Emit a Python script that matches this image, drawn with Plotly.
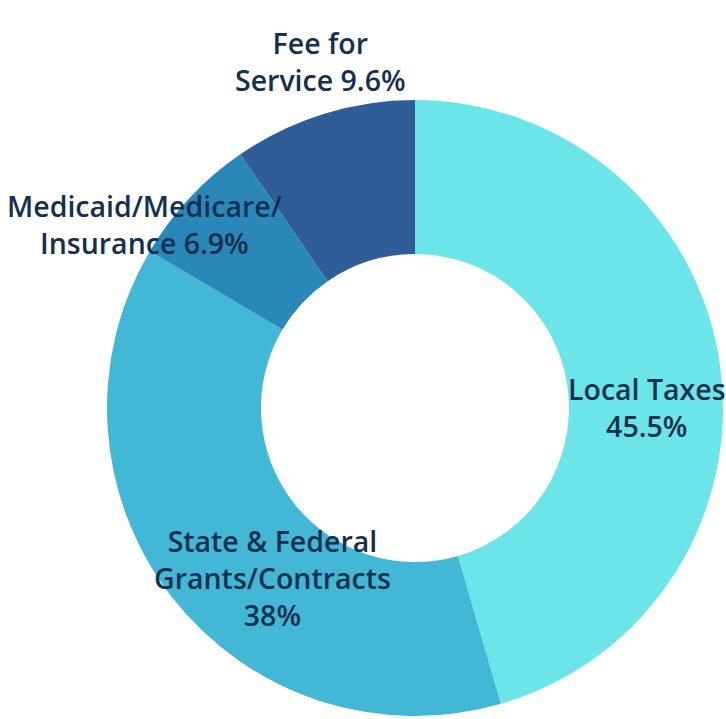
import plotly.graph_objects as go

labels = ["Local Taxes", "State & Federal Grants/Contracts", "Medicaid/Medicare/Insurance", "Fee for Service"]
values = [45.5, 38, 6.9, 9.6]
display_text = ["Local Taxes<br>45.5%", "State & Federal<br>Grants/Contracts<br>38%",
                "Medicaid/Medicare/<br>Insurance 6.9%", "Fee for<br>Service 9.6%"]
colors = ["#6BE5E8", "#43B7D6", "#2A87B9", "#2E5D98"]
# label anchor positions (paper fraction)
label_x = [0.8912, 0.376, 0.1997, 0.4408]
label_y = [0.4339, 0.1961, 0.6871, 0.9138]

fig = go.Figure(go.Pie(
    labels=labels, values=values,
    textinfo="none",
    hole=0.5, sort=False, direction="clockwise", rotation=0,
    marker=dict(colors=colors, line=dict(width=0)),
    domain=dict(x=[107/726, 723/726], y=[3/719, 619/719]),
    showlegend=False,
))
for t, x, y in zip(display_text, label_x, label_y):
    fig.add_annotation(text=t, x=x, y=y, xref="paper", yref="paper",
                       xanchor="center", yanchor="middle", align="center",
                       showarrow=False,
                       font=dict(family="Open Sans", size=28.5, color="#12304F", weight=600))
fig.update_layout(
    width=726, height=719,
    margin=dict(l=0, r=0, t=0, b=0),
    paper_bgcolor="white", plot_bgcolor="white",
)
fig.write_html("out.html", config={"displayModeBar": False},
               post_script="document.body.style.margin='0';")
